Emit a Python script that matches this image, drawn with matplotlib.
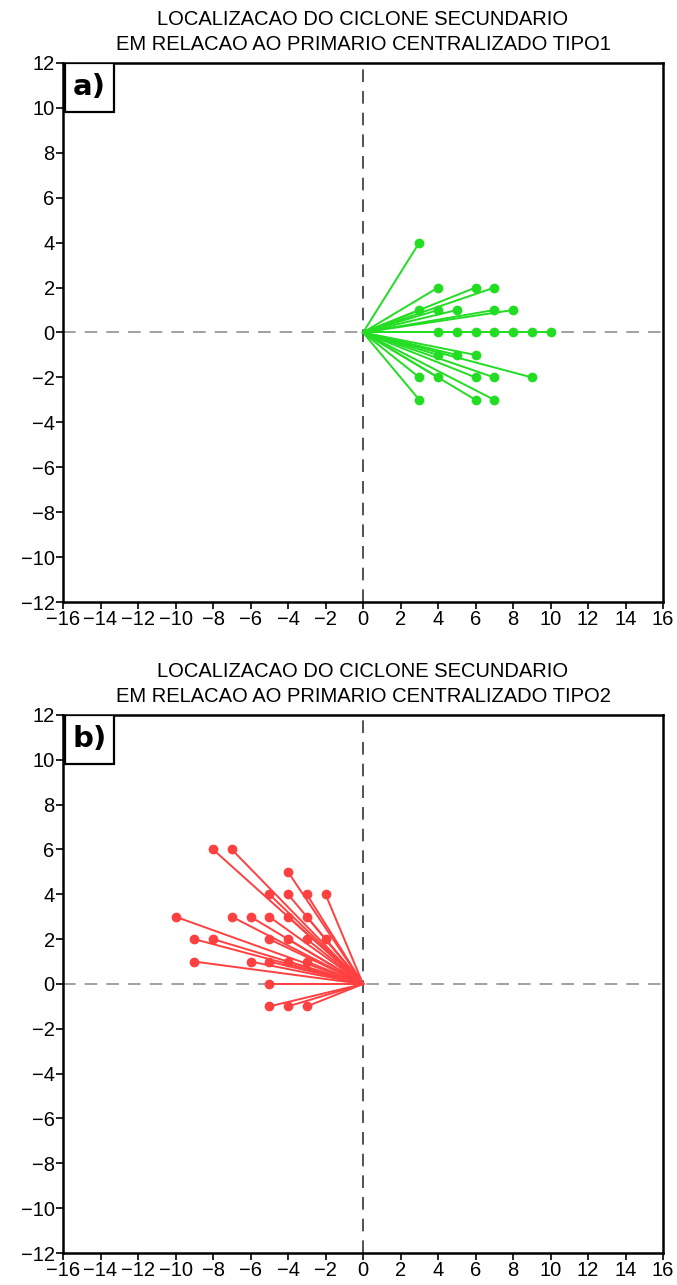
import matplotlib.pyplot as plt
from matplotlib.patches import Rectangle

# tipo 1 (verde)
x1 = [3, 4, 6, 7, 3, 4, 5, 7, 8, 4, 5, 6, 7, 8, 9, 10, 4, 5, 6, 3, 4, 6, 7, 9, 3, 6, 7]
y1 = [4, 2, 2, 2, 1, 1, 1, 1, 1, 0, 0, 0, 0, 0, 0, 0, -1, -1, -1, -2, -2, -2, -2, -2, -3, -3, -3]

# tipo 2 (vermelho)
x2 = [-8, -7, -4, -5, -4, -3, -2, -10, -7, -6, -5, -4, -3, -9, -8, -5, -4, -3, -2,
      -9, -6, -5, -4, -3, -5, -5, -4, -3]
y2 = [6, 6, 5, 4, 4, 4, 4, 3, 3, 3, 3, 3, 3, 2, 2, 2, 2, 2, 2,
      1, 1, 1, 1, 1, 0, -1, -1, -1]

titles = ['LOCALIZACAO DO CICLONE SECUNDARIO\nEM RELACAO AO PRIMARIO CENTRALIZADO TIPO1',
          'LOCALIZACAO DO CICLONE SECUNDARIO\nEM RELACAO AO PRIMARIO CENTRALIZADO TIPO2']
letters = ['a)', 'b)']
cores = ['#22dd22', '#ff4040']
dados = [(x1, y1), (x2, y2)]

plt.rcParams['font.family'] = ['Liberation Sans', 'DejaVu Sans']

fig = plt.figure(figsize=(6.77, 12.85), dpi=100)
posicoes = [[0.0931, 0.5315, 0.8863, 0.4195], [0.0931, 0.0249, 0.8863, 0.4187]]

for i in range(2):
    ax = fig.add_axes(posicoes[i])
    xs, ys = dados[i]
    ax.axhline(0, color='#999999', lw=1.3, ls=(0, (7, 5)), zorder=1)
    ax.axvline(0, color='#444444', lw=1.3, ls=(0, (7, 5)), zorder=1)
    for x, y in zip(xs, ys):
        ax.plot([0, x], [0, y], color=cores[i], lw=1.4, zorder=2)
    ax.plot(xs, ys, 'o', color=cores[i], ms=6, zorder=3)
    ax.set_xlim(-16, 16)
    ax.set_ylim(-12, 12)
    ax.set_xticks(range(-16, 17, 2))
    ax.set_yticks(range(-12, 13, 2))
    ax.set_xticklabels([str(v).replace('-', '\u2212') for v in range(-16, 17, 2)])
    ax.set_yticklabels([str(v).replace('-', '\u2212') for v in range(-12, 13, 2)])
    ax.tick_params(labelsize=14.5, length=5, width=1.2, pad=1)
    for s in ax.spines.values():
        s.set_linewidth(1.8)
    ax.set_title(titles[i], fontsize=14.5, linespacing=1.45, pad=9)
    # caixa da letra
    ax.add_patch(Rectangle((0.004, 0.909), 0.081, 0.091, transform=ax.transAxes,
                           fc='white', ec='black', lw=1.6, zorder=5))
    ax.text(0.0445, 0.955, letters[i], transform=ax.transAxes, ha='center', va='center',
            fontsize=21, fontweight='bold', family='DejaVu Sans', zorder=6)

fig.savefig('out.png', dpi=100)
